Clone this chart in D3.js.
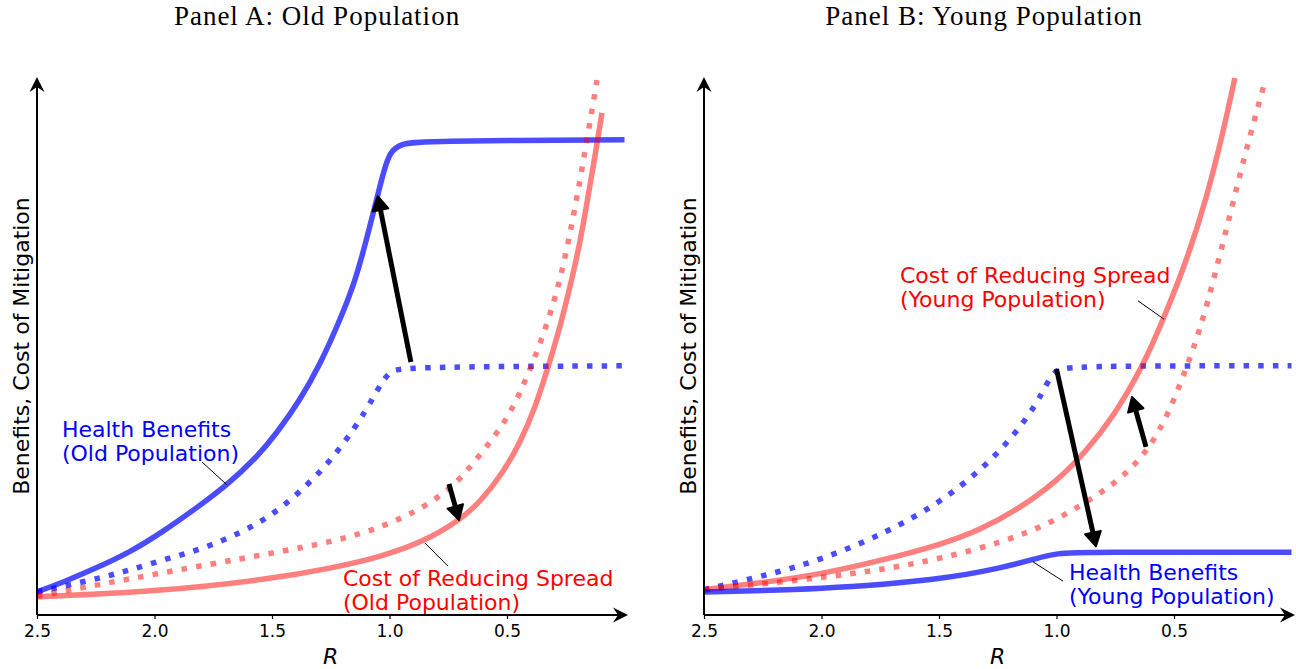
<!DOCTYPE html>
<html>
<head>
<meta charset="utf-8">
<script src="https://cdn.jsdelivr.net/npm/d3@7"></script>
<style>
  body { margin: 0; background: #fff; }
  text { font-family: "DejaVu Sans", sans-serif; }
</style>
</head>
<body>
<svg id="chart" width="1296" height="669"></svg>
<script>
// x axis: R falls from 2.5 towards 0
var tickValues = [2.5, 2.0, 1.5, 1.0, 0.5];
var tickLabels = ["2.5", "2.0", "1.5", "1.0", "0.5"];
var panelTitles = ["Panel A: Old Population", "Panel B: Young Population"];

// Panel A, [R, value]
var oldHealth = [[2.5,0.43],[2.389,0.61],[2.245,0.88],[2.104,1.17],[1.964,1.55],[1.819,2.0],[1.691,2.42],
  [1.564,2.94],[1.479,3.39],[1.381,4.0],[1.296,4.66],[1.211,5.49],[1.147,6.2],[1.096,7.02],[1.053,7.77],
  [1.023,8.29],[0.998,8.62],[0.955,8.77],[0.87,8.83],[0.0,8.85]];
var oldHealthDotted = [[2.5,0.43],[2.317,0.60],[2.147,0.78],[1.977,1.01],[1.794,1.23],[1.623,1.55],[1.5,1.86],
  [1.381,2.29],[1.253,2.85],[1.138,3.54],[1.07,4.04],[1.032,4.34],[0.998,4.53],[0.955,4.62],[0.0,4.64]];
var oldCost = [[2.5,0.34],[2.002,0.43],[1.5,0.67],[1.24,0.88],[1.04,1.08],[0.857,1.36],[0.7,1.77],[0.615,2.10],
  [0.517,2.65],[0.445,3.20],[0.381,3.85],[0.326,4.60],[0.274,5.36],[0.223,6.27],[0.189,6.94],[0.16,7.67],
  [0.126,8.53],[0.096,9.35]];
var oldCostDotted = [[2.5,0.35],[2.002,0.76],[1.5,1.15],[1.223,1.38],[1.028,1.64],[0.849,2.01],[0.743,2.36],
  [0.691,2.57],[0.53,3.43],[0.445,4.10],[0.36,5.03],[0.296,5.87],[0.253,6.65],[0.219,7.39],[0.189,8.10],
  [0.164,8.75],[0.138,9.40],[0.117,9.96]];
var oldArrows = [[[0.909,4.71],[1.05,7.8]], [[0.747,2.44],[0.704,1.77]]];

// Panel B
var youngHealth = [[2.5,0.43],[2.0,0.48],[1.5,0.65],[1.22,0.89],[1.08,1.06],[1.0,1.15],[0.88,1.17],[0.0,1.17]];
var youngHealthDotted = [[2.5,0.47],[2.262,0.71],[2.002,1.02],[1.721,1.54],[1.5,2.08],[1.309,2.74],[1.168,3.41],
  [1.083,3.95],[1.04,4.32],[1.006,4.56],[0.947,4.64],[0.0,4.64]];
var youngCost = [[2.5,0.47],[2.253,0.60],[2.002,0.76],[1.751,1.01],[1.5,1.30],[1.326,1.58],[1.155,1.99],
  [1.002,2.48],[0.879,3.02],[0.755,3.71],[0.636,4.60],[0.543,5.53],[0.445,6.61],[0.36,7.78],[0.292,8.97],[0.241,10.0]];
var youngCostDotted = [[2.5,0.47],[2.002,0.69],[1.751,0.84],[1.5,1.04],[1.223,1.36],[1.002,1.75],[0.789,2.33],
  [0.687,2.70],[0.602,3.13],[0.526,3.72],[0.453,4.53],[0.389,5.31],[0.326,6.33],[0.262,7.45],[0.198,8.57],
  [0.147,9.40],[0.111,9.96]];
var youngArrows = [[[1.0,4.58],[0.832,1.28]], [[0.619,3.13],[0.679,4.06]]];

// annotation labels: text lines, text anchor [R, value], leader line [from, to]
var oldNotes = [
  {lines: ["Health Benefits", "(Old Population)"], color: "blue", at: [2.394, 3.31], leader: [[1.798,2.85],[1.691,2.42]]},
  {lines: ["Cost of Reducing Spread", "(Old Population)"], color: "red", at: [1.198, 0.54], leader: [[0.849,1.34],[0.751,0.91]]}
];
var youngNotes = [
  {lines: ["Cost of Reducing Spread", "(Young Population)"], color: "red", at: [1.666, 6.18], leader: [[0.653,5.85],[0.543,5.51]]},
  {lines: ["Health Benefits", "(Young Population)"], color: "blue", at: [0.947, 0.65], leader: [[1.10,0.99],[0.972,0.63]]}
];

var svg = d3.select("#chart");
var y = d3.scaleLinear().domain([0, 10]).range([615, 78]);

function drawPanel(left, title, series, arrows, notes, axisEnd) {
  var x = d3.scaleLinear().domain([2.5, 0]).range([left, left + 587.5]);
  var g = svg.append("g");
  var line = d3.line()
    .x(function(d) { return x(d[0]); })
    .y(function(d) { return y(d[1]); })
    .curve(d3.curveBasis);

  series.forEach(function(s) {
    g.append("path")
      .attr("d", line(s.data))
      .attr("fill", "none")
      .attr("stroke", s.color)
      .attr("stroke-opacity", s.color == "blue" ? 0.7 : 0.5)
      .attr("stroke-width", 5.5)
      .attr("stroke-dasharray", s.dotted ? "5.5,9.2" : null);
  });

  // axes with arrow heads
  g.append("line").attr("x1", left).attr("y1", 615).attr("x2", axisEnd - 6).attr("y2", 615)
    .attr("stroke", "black").attr("stroke-width", 2);
  g.append("line").attr("x1", left).attr("y1", 615).attr("x2", left).attr("y2", 84)
    .attr("stroke", "black").attr("stroke-width", 2);
  var head = "M0,0 L-15,-7.5 L-10,0 L-15,7.5 Z";
  g.append("path").attr("d", head).attr("transform", "translate(" + axisEnd + ",615)");
  g.append("path").attr("d", head).attr("transform", "translate(" + left + ",77) rotate(-90)");

  var xAxis = d3.axisBottom(x)
    .tickValues(tickValues)
    .tickFormat(function(d, i) { return tickLabels[i]; })
    .tickSize(4)
    .tickPadding(6);
  var ax = g.append("g").attr("transform", "translate(0,615)").call(xAxis);
  ax.select(".domain").remove();
  ax.selectAll("line").attr("stroke-width", 1.2);
  ax.selectAll("text").attr("font-size", "17px").attr("font-family", "DejaVu Sans");

  g.append("text")
    .attr("x", left + 293.75).attr("y", 664)
    .attr("text-anchor", "middle")
    .style("font-size", "22px").style("font-style", "italic")
    .text("R");

  g.append("text")
    .attr("text-anchor", "middle")
    .style("font-size", "22px")
    .attr("transform", "translate(" + (left - 8) + ",346)rotate(-90)")
    .text("Benefits, Cost of Mitigation");

  g.append("text")
    .attr("x", left + 280).attr("y", 25)
    .attr("text-anchor", "middle")
    .style("font-family", "Liberation Serif, serif")
    .style("font-size", "27px")
    .style("letter-spacing", "1px")
    .text(title);

  // leader lines and labels
  notes.forEach(function(n) {
    g.append("line")
      .attr("x1", x(n.leader[0][0])).attr("y1", y(n.leader[0][1]))
      .attr("x2", x(n.leader[1][0])).attr("y2", y(n.leader[1][1]))
      .attr("stroke", "black").attr("stroke-width", 1);
    var t = g.append("text")
      .attr("x", x(n.at[0])).attr("y", y(n.at[1]))
      .attr("fill", n.color)
      .style("font-size", "22px");
    n.lines.forEach(function(l, i) {
      t.append("tspan").attr("x", x(n.at[0])).attr("dy", i == 0 ? 0 : 24).text(l);
    });
  });

  // black shift arrows
  arrows.forEach(function(a) {
    var x1 = x(a[0][0]), y1 = y(a[0][1]), x2 = x(a[1][0]), y2 = y(a[1][1]);
    var ang = Math.atan2(y2 - y1, x2 - x1);
    var hl = 14;
    g.append("line")
      .attr("x1", x1).attr("y1", y1)
      .attr("x2", x2 - Math.cos(ang) * hl * 0.8).attr("y2", y2 - Math.sin(ang) * hl * 0.8)
      .attr("stroke", "black").attr("stroke-width", 5);
    g.append("path")
      .attr("d", "M0,0 L-" + hl + ",-8 L-" + hl + ",8 Z")
      .attr("transform", "translate(" + x2 + "," + y2 + ")rotate(" + (ang * 180 / Math.PI) + ")")
      .attr("fill", "black").attr("stroke", "black")
      .attr("stroke-width", 2).attr("stroke-linejoin", "round");
  });
}

drawPanel(37, panelTitles[0], [
  {data: oldHealth, color: "blue", dotted: false},
  {data: oldHealthDotted, color: "blue", dotted: true},
  {data: oldCostDotted, color: "red", dotted: true},
  {data: oldCost, color: "red", dotted: false}
], oldArrows, oldNotes, 628);

drawPanel(704, panelTitles[1], [
  {data: youngHealthDotted, color: "blue", dotted: true},
  {data: youngCostDotted, color: "red", dotted: true},
  {data: youngCost, color: "red", dotted: false},
  {data: youngHealth, color: "blue", dotted: false}
], youngArrows, youngNotes, 1295);
</script>
</body>
</html>
